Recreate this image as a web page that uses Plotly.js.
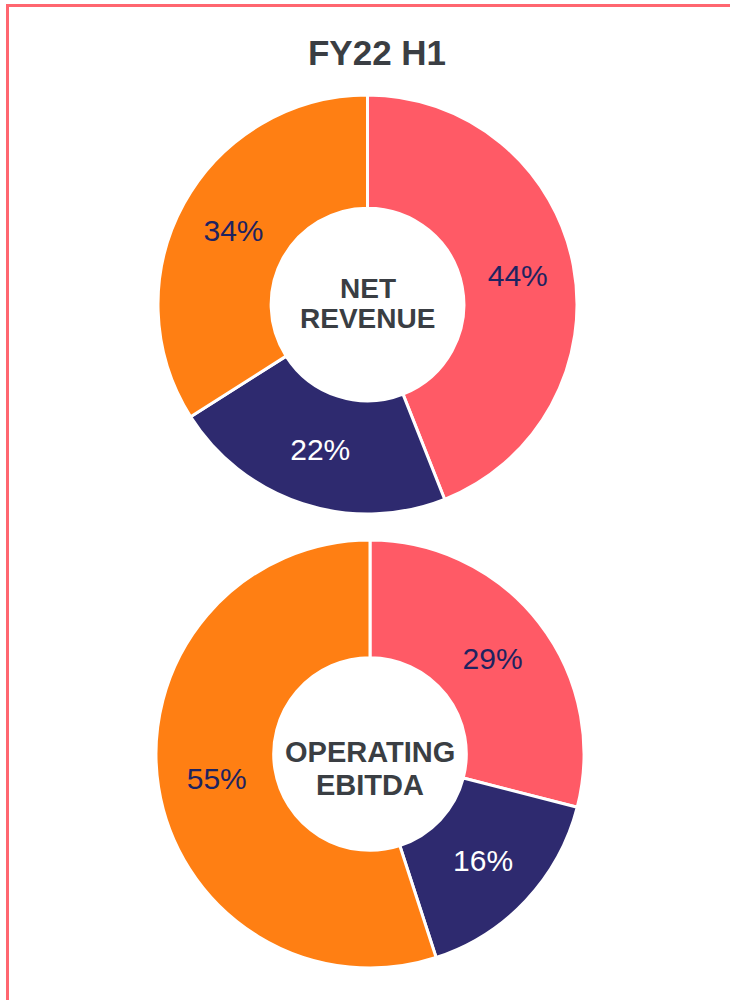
<!DOCTYPE html>
<html>
<head>
<meta charset="utf-8">
<script src="https://cdn.plot.ly/plotly-3.0.1.min.js"></script>
<style>
  html, body { margin: 0; padding: 0; background: #ffffff; width: 730px; height: 1000px; overflow: hidden; }
  #frame { position: absolute; left: 6px; top: 4px; width: 900px; height: 1200px; border: 3px solid #FF6670; box-sizing: border-box; }
  #chart { position: absolute; left: 0; top: 0; width: 730px; height: 1000px; }
</style>
</head>
<body>
<div id="frame"></div>
<div id="chart"></div>
<script>
// Data
const chartTitle = 'FY22 H1';
const segments = ['Segment 1', 'Segment 2', 'Segment 3'];
const netRevenue = [44, 22, 34];
const operatingEbitda = [29, 16, 55];
const sliceColors = ['#FF5A66', '#2E2A6F', '#FF7F13'];
const labelColors = ['#1E2360', '#FFFFFF', '#1E2360'];
const centerLabels1 = ['NET', 'REVENUE'];
const centerLabels2 = ['OPERATING', 'EBITDA'];

const W = 730, H = 1000;
const dom1 = { x: [158 / W, 577 / W], y: [1 - 514 / H, 1 - 95 / H] };
const dom2 = { x: [156 / W, 584 / W], y: [1 - 968 / H, 1 - 540 / H] };

function pieTrace(values, domain, hole) {
  return {
    type: 'pie',
    labels: segments,
    values: values,
    domain: domain,
    hole: hole,
    sort: false,
    direction: 'clockwise',
    rotation: 0,
    textinfo: 'percent',
    textposition: 'inside',
    insidetextorientation: 'horizontal',
    texttemplate: '%{percent:.0%}',
    textfont: { family: 'Liberation Sans, Arial, sans-serif', size: 30, color: labelColors },
    marker: { colors: sliceColors, line: { color: '#FFFFFF', width: 3 } },
    hoverinfo: 'label+percent',
    showlegend: false
  };
}

const cx1 = (dom1.x[0] + dom1.x[1]) / 2;
const cx2 = (dom2.x[0] + dom2.x[1]) / 2;
const centerFont1 = { family: 'Liberation Sans, Arial, sans-serif', size: 28, color: '#3A3E43' };
const centerFont2 = { family: 'Liberation Sans, Arial, sans-serif', size: 29, color: '#3A3E43' };

const annotations = [
  { text: '<b>' + centerLabels1[0] + '</b>', x: cx1, y: 1 - 289 / H, font: centerFont1 },
  { text: '<b>' + centerLabels1[1] + '</b>', x: cx1, y: 1 - 318 / H, font: centerFont1 },
  { text: '<b>' + centerLabels2[0] + '</b>', x: cx2, y: 1 - 752 / H, font: centerFont2 },
  { text: '<b>' + centerLabels2[1] + '</b>', x: cx2, y: 1 - 785 / H, font: centerFont2 }
].map(a => Object.assign({ xref: 'paper', yref: 'paper', xanchor: 'center', yanchor: 'middle', showarrow: false }, a));

const layout = {
  width: W, height: H,
  margin: { l: 0, r: 0, t: 0, b: 0 },
  paper_bgcolor: 'rgba(0,0,0,0)',
  plot_bgcolor: 'rgba(0,0,0,0)',
  title: {
    text: '<b>' + chartTitle + '</b>',
    x: 377 / W, xanchor: 'center',
    y: 1 - 53 / H, yanchor: 'middle',
    font: { family: 'Liberation Sans, Arial, sans-serif', size: 35, color: '#3A3E43' }
  },
  annotations: annotations,
  font: { family: 'Liberation Sans, Arial, sans-serif' }
};

Plotly.newPlot('chart', [pieTrace(netRevenue, dom1, 0.46), pieTrace(operatingEbitda, dom2, 0.45)], layout, { displayModeBar: false, staticPlot: true });
</script>
</body>
</html>
